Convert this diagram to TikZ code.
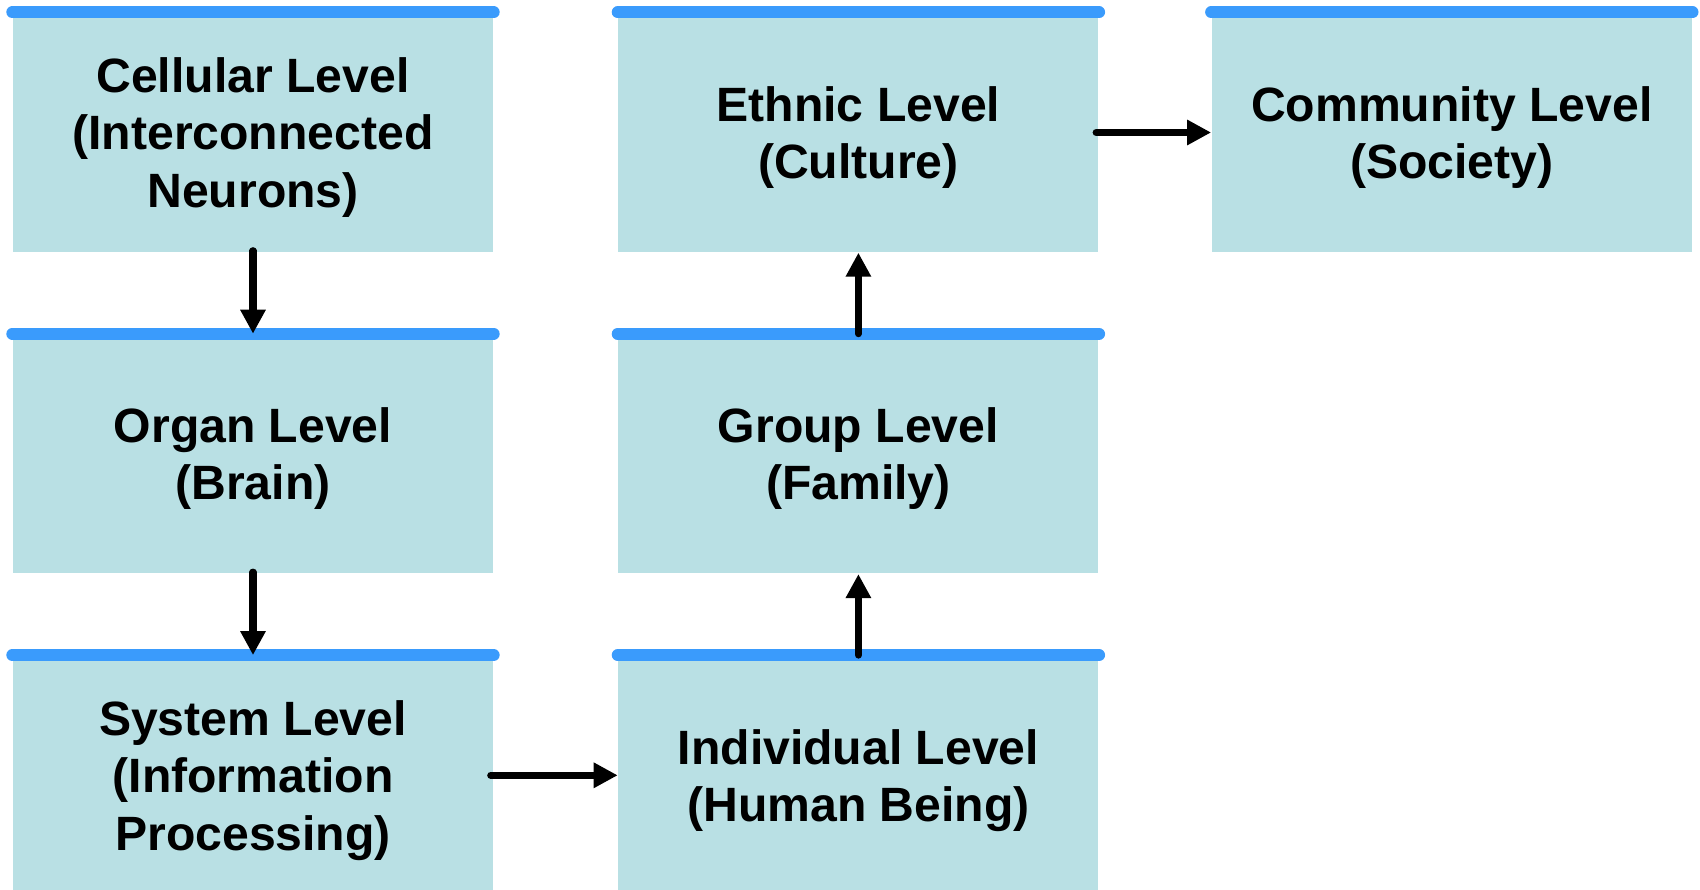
\documentclass[tikz,border=0pt]{standalone}
\usepackage{fontspec}
\setmainfont{Liberation Sans}
\usetikzlibrary{positioning}
\usetikzlibrary{arrows.meta}
\definecolor{boxfill}{RGB}{185,224,228}
\definecolor{barblue}{RGB}{58,155,252}
\tikzset{
levelnode/.style={rectangle, fill=boxfill, minimum width=4.8cm, minimum height=2.39cm,
  align=center, font=\fontsize{13.7}{16.3}\selectfont\bfseries, inner sep=0pt, text depth=0pt},
topbar/.style={draw=barblue, line width=3.4pt, line cap=round},
flow/.style={line width=2pt, line cap=round, -{Triangle[length=2.4mm, width=2.4mm]}}
}

\begin{document}
\begin{tikzpicture}[node distance=0.81 and 1.24]
\useasboundingbox (0,0) rectangle (17,-8.9);
%Nodes
\node [levelnode] (cell) at (2.53,-1.325) {Cellular Level\\(Interconnected\\Neurons)};
\node [levelnode] (organ) [below= of cell] {Organ Level\\(Brain)};
\node [levelnode] (sys) [below= of organ] {System Level\\(Information\\Processing)};
\node [levelnode] (indiv) [right= of sys] {Individual Level\\(Human Being)};
\node [levelnode] (group) [above= of indiv] {Group Level\\(Family)};
\node [levelnode] (ethnic) [above= of group] {Ethnic Level\\(Culture)};
\node [levelnode] (comm) [right=1.12 of ethnic] {Community Level\\(Society)};

%Bars
\foreach \n in {cell,organ,sys,indiv,group,ethnic,comm}
  \draw[topbar] (\n.north west) -- (\n.north east);

%Arrows
\draw[flow] ([yshift=0.02cm]cell.south) -- (organ.north);
\draw[flow] ([yshift=0.02cm]organ.south) -- (sys.north);
\draw[flow] ([xshift=-0.03cm]sys.east) -- (indiv.west);
\draw[flow] (indiv.north) -- (group.south);
\draw[flow] (group.north) -- (ethnic.south);
\draw[flow] ([xshift=-0.03cm]ethnic.east) -- (comm.west);

\end{tikzpicture}
\end{document}
